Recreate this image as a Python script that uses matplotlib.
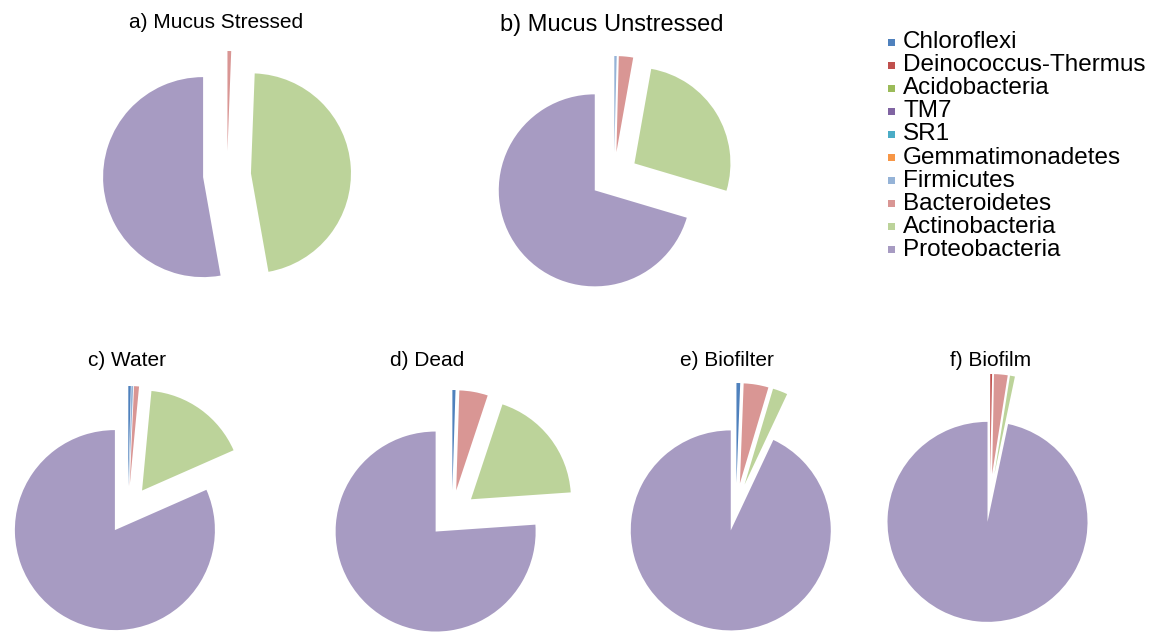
import matplotlib
matplotlib.use("Agg")
import matplotlib.pyplot as plt
from matplotlib.patches import Rectangle

plt.rcParams['font.family'] = ['Liberation Sans', 'DejaVu Sans']

phyla = ["Chloroflexi", "Deinococcus-Thermus", "Acidobacteria", "TM7", "SR1",
         "Gemmatimonadetes", "Firmicutes", "Bacteroidetes", "Actinobacteria",
         "Proteobacteria"]
colors = ["#4F81BD", "#C0504D", "#9BBB59", "#8064A2", "#4BACC6",
          "#F79646", "#95B3D7", "#D99694", "#BCD39A", "#A79BC2"]

titles = ["a) Mucus Stressed", "b) Mucus Unstressed", "c) Water",
          "d) Dead", "e) Biofilter", "f) Biofilm"]

# relative abundance (%) per phylum, same order as `phyla`
mucus_stressed   = [0.0, 0.0, 0.0, 0.0, 0.0, 0.0, 0.0, 0.6, 46.6, 52.8]
mucus_unstressed = [0.0, 0.0, 0.0, 0.0, 0.0, 0.0, 0.4, 2.4, 26.8, 70.4]
water            = [0.4, 0.0, 0.0, 0.0, 0.0, 0.0, 0.3, 0.8, 16.9, 81.6]
dead             = [0.5, 0.0, 0.0, 0.0, 0.0, 0.0, 0.0, 4.6, 18.8, 76.1]
biofilter        = [0.6, 0.0, 0.0, 0.0, 0.0, 0.0, 0.0, 4.0, 2.4, 93.0]
biofilm          = [0.0, 0.3, 0.0, 0.0, 0.0, 0.0, 0.0, 2.2, 0.8, 96.7]

samples = [mucus_stressed, mucus_unstressed, water, dead, biofilter, biofilm]

W, H = 1155, 632
fig = plt.figure(figsize=(W / 100, H / 100), dpi=100)
ax = fig.add_axes([0, 0, 1, 1])

# layout in pixel units (x from left, y from top)
centers = [(227, 175), (614, 176), (128, 510), (452, 514), (736, 507), (990, 498)]
radii = [100, 96, 100, 100, 100, 100]
pull = 24  # radial offset of every wedge, in pixels
title_pos = [(216, 22), (612, 25), (127, 360), (427, 360), (727, 360), (991, 360)]
title_size = [15, 17, 15, 15, 15, 15]

for vals, (cx, cy), r, title, (tx, ty), fs in zip(
        samples, centers, radii, titles, title_pos, title_size):
    ax.pie(vals, colors=colors, startangle=90, counterclock=False,
           center=(cx, H - cy), radius=r, explode=[pull] * len(vals),
           wedgeprops=dict(linewidth=0), normalize=True)
    ax.text(tx, H - ty, title, ha="center", va="center", fontsize=fs,
            color="black")

ax.set_xlim(0, W)
ax.set_ylim(0, H)
ax.set_aspect("auto")
ax.axis("off")

# legend
lx, ly0, dy = 891, 42, 23.1
for i, (name, c) in enumerate(zip(phyla, colors)):
    y = H - (ly0 + i * dy)
    ax.add_patch(Rectangle((lx - 3.5, y - 3.5), 7, 7, facecolor=c,
                           edgecolor="none"))
    ax.text(903, y, name, ha="left", va="center", fontsize=17.5,
            color="black")

fig.savefig("out.png", dpi=100)
